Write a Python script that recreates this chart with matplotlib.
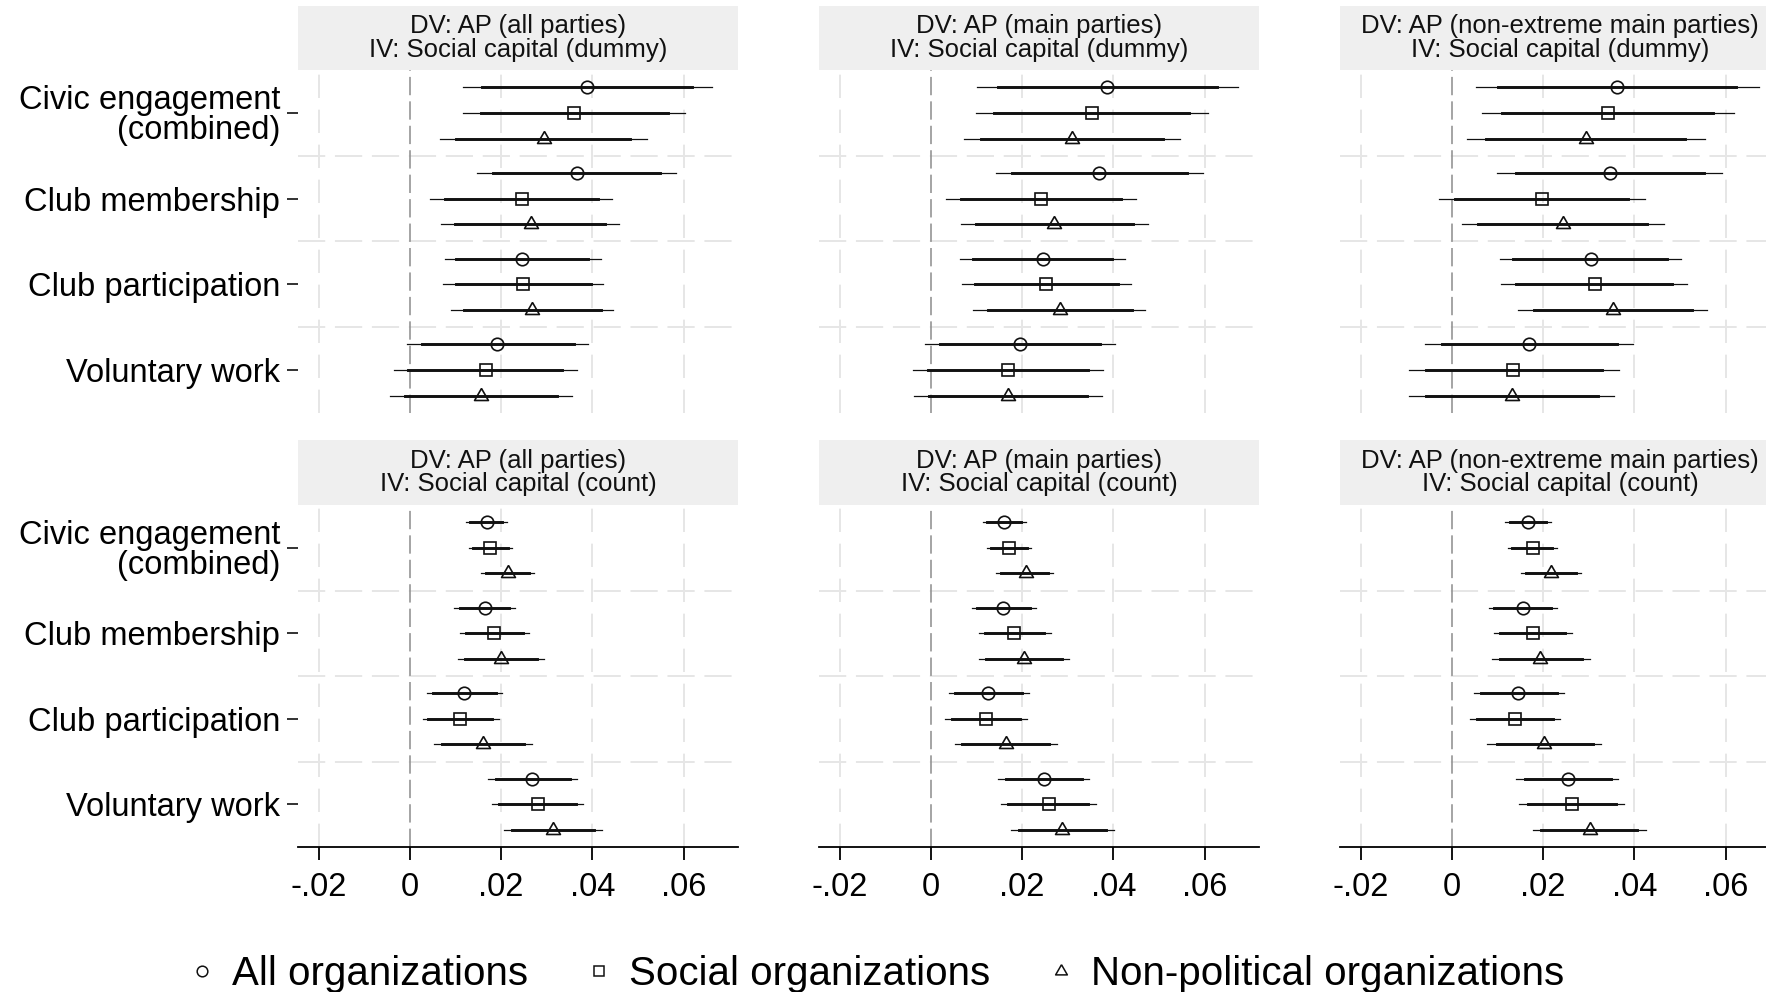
import matplotlib
matplotlib.use('Agg')
import matplotlib.pyplot as plt
from matplotlib.lines import Line2D

plt.rcParams['font.family'] = ['Liberation Sans', 'DejaVu Sans']

# ---- data: rows = categories, columns = [all, social, non-political] ----
categories = ['Civic engagement\n(combined)', 'Club membership',
              'Club participation', 'Voluntary work']
series = ['All organizations', 'Social organizations', 'Non-political organizations']
xticks = [-0.02, 0, 0.02, 0.04, 0.06]
xticklabels = ['-.02', '0', '.02', '.04', '.06']

titles = [
    'DV: AP (all parties)\nIV: Social capital (dummy)',
    'DV: AP (main parties)\nIV: Social capital (dummy)',
    'DV: AP (non-extreme main parties)\nIV: Social capital (dummy)',
    'DV: AP (all parties)\nIV: Social capital (count)',
    'DV: AP (main parties)\nIV: Social capital (count)',
    'DV: AP (non-extreme main parties)\nIV: Social capital (count)',
]

# DV all parties, IV dummy
b_dummy_all = [[0.0389, 0.0360, 0.0294], [0.0366, 0.0245, 0.0265], [0.0246, 0.0249, 0.0268], [0.0192, 0.0166, 0.0155]]
lo95_dummy_all = [[0.0117, 0.0117, 0.0067], [0.0148, 0.0045, 0.0068], [0.0077, 0.0073, 0.0090], [-0.0006, -0.0034, -0.0044]]
hi95_dummy_all = [[0.0662, 0.0603, 0.0519], [0.0583, 0.0444, 0.0459], [0.0418, 0.0424, 0.0446], [0.0391, 0.0366, 0.0355]]
lo90_dummy_all = [[0.0159, 0.0156, 0.0102], [0.0183, 0.0077, 0.0100], [0.0102, 0.0101, 0.0118], [0.0027, -0.0004, -0.0011]]
hi90_dummy_all = [[0.0618, 0.0565, 0.0483], [0.0548, 0.0413, 0.0428], [0.0390, 0.0397, 0.0418], [0.0360, 0.0334, 0.0323]]

# DV main parties, IV dummy
b_dummy_main = [[0.0387, 0.0353, 0.0310], [0.0369, 0.0242, 0.0270], [0.0245, 0.0253, 0.0283], [0.0196, 0.0170, 0.0170]]
lo95_dummy_main = [[0.0101, 0.0099, 0.0072], [0.0142, 0.0034, 0.0066], [0.0064, 0.0068, 0.0093], [-0.0012, -0.0040, -0.0037]]
hi95_dummy_main = [[0.0672, 0.0607, 0.0546], [0.0597, 0.0450, 0.0475], [0.0426, 0.0439, 0.0469], [0.0404, 0.0378, 0.0376]]
lo90_dummy_main = [[0.0148, 0.0139, 0.0110], [0.0177, 0.0066, 0.0099], [0.0092, 0.0097, 0.0125], [0.0020, -0.0007, -0.0004]]
hi90_dummy_main = [[0.0626, 0.0566, 0.0508], [0.0561, 0.0417, 0.0442], [0.0396, 0.0409, 0.0440], [0.0371, 0.0345, 0.0343]]

# DV non-extreme main parties, IV dummy
b_dummy_nonext = [[0.0362, 0.0343, 0.0294], [0.0346, 0.0198, 0.0243], [0.0304, 0.0313, 0.0353], [0.0170, 0.0135, 0.0132]]
lo95_dummy_nonext = [[0.0053, 0.0067, 0.0033], [0.0100, -0.0028, 0.0022], [0.0105, 0.0108, 0.0145], [-0.0059, -0.0093, -0.0094]]
hi95_dummy_nonext = [[0.0672, 0.0619, 0.0554], [0.0591, 0.0423, 0.0465], [0.0503, 0.0515, 0.0560], [0.0397, 0.0366, 0.0356]]
lo90_dummy_nonext = [[0.0102, 0.0111, 0.0075], [0.0141, 0.0007, 0.0057], [0.0135, 0.0141, 0.0179], [-0.0022, -0.0056, -0.0057]]
hi90_dummy_nonext = [[0.0622, 0.0573, 0.0511], [0.0553, 0.0386, 0.0428], [0.0471, 0.0482, 0.0526], [0.0361, 0.0329, 0.0321]]

# DV all parties, IV count
b_count_all = [[0.0168, 0.0176, 0.0214], [0.0164, 0.0185, 0.0199], [0.0119, 0.0111, 0.0161], [0.0268, 0.0280, 0.0314]]
lo95_count_all = [[0.0123, 0.0129, 0.0156], [0.0097, 0.0110, 0.0106], [0.0037, 0.0028, 0.0053], [0.0172, 0.0181, 0.0206]]
hi95_count_all = [[0.0213, 0.0224, 0.0272], [0.0230, 0.0261, 0.0294], [0.0201, 0.0195, 0.0268], [0.0366, 0.0379, 0.0422]]
lo90_count_all = [[0.0132, 0.0139, 0.0167], [0.0110, 0.0122, 0.0121], [0.0050, 0.0040, 0.0071], [0.0188, 0.0196, 0.0223]]
hi90_count_all = [[0.0202, 0.0214, 0.0261], [0.0218, 0.0249, 0.0278], [0.0188, 0.0181, 0.0250], [0.0351, 0.0363, 0.0404]]

# DV main parties, IV count
b_count_main = [[0.0161, 0.0172, 0.0208], [0.0159, 0.0183, 0.0204], [0.0126, 0.0121, 0.0165], [0.0248, 0.0258, 0.0288]]
lo95_count_main = [[0.0115, 0.0123, 0.0142], [0.0090, 0.0106, 0.0106], [0.0039, 0.0031, 0.0052], [0.0148, 0.0153, 0.0176]]
hi95_count_main = [[0.0208, 0.0220, 0.0267], [0.0230, 0.0263, 0.0303], [0.0214, 0.0210, 0.0276], [0.0347, 0.0361, 0.0402]]
lo90_count_main = [[0.0124, 0.0132, 0.0153], [0.0101, 0.0118, 0.0121], [0.0052, 0.0046, 0.0069], [0.0164, 0.0169, 0.0193]]
hi90_count_main = [[0.0197, 0.0210, 0.0256], [0.0218, 0.0249, 0.0287], [0.0199, 0.0196, 0.0259], [0.0332, 0.0344, 0.0384]]

# DV non-extreme main parties, IV count
b_count_nonext = [[0.0166, 0.0177, 0.0218], [0.0156, 0.0178, 0.0194], [0.0146, 0.0139, 0.0203], [0.0254, 0.0264, 0.0302]]
lo95_count_nonext = [[0.0117, 0.0123, 0.0152], [0.0081, 0.0092, 0.0088], [0.0048, 0.0039, 0.0078], [0.0141, 0.0148, 0.0177]]
hi95_count_nonext = [[0.0217, 0.0231, 0.0284], [0.0231, 0.0264, 0.0302], [0.0245, 0.0238, 0.0327], [0.0365, 0.0377, 0.0426]]
lo90_count_nonext = [[0.0127, 0.0132, 0.0163], [0.0092, 0.0106, 0.0105], [0.0064, 0.0055, 0.0099], [0.0161, 0.0166, 0.0195]]
hi90_count_nonext = [[0.0206, 0.0220, 0.0273], [0.0217, 0.0249, 0.0285], [0.0231, 0.0222, 0.0309], [0.0348, 0.0360, 0.0406]]

panels = [
    (b_dummy_all, lo95_dummy_all, hi95_dummy_all, lo90_dummy_all, hi90_dummy_all),
    (b_dummy_main, lo95_dummy_main, hi95_dummy_main, lo90_dummy_main, hi90_dummy_main),
    (b_dummy_nonext, lo95_dummy_nonext, hi95_dummy_nonext, lo90_dummy_nonext, hi90_dummy_nonext),
    (b_count_all, lo95_count_all, hi95_count_all, lo90_count_all, hi90_count_all),
    (b_count_main, lo95_count_main, hi95_count_main, lo90_count_main, hi90_count_main),
    (b_count_nonext, lo95_count_nonext, hi95_count_nonext, lo90_count_nonext, hi90_count_nonext),
]

# ---- style ----
TRI = [(0, 1), (-0.866, -0.5), (0.866, -0.5), (0, 1)]
markers = ['o', 's', TRI]
msizes = [9, 9, 11.5]
offsets = [-0.3, 0.0, 0.3]
INK = '#111111'

W, H = 1766, 992
fig = plt.figure(figsize=(W / 100, H / 100), dpi=100)


def px_axes(left, top, width, height):
    return fig.add_axes([left / W, 1 - (top + height) / H, width / W, height / H])


lefts = [298, 819, 1340]
rows = [(6, 70, 413), (440, 505, 847)]   # strip top, plot top, plot bottom
PW = 440

for k, (b, lo95, hi95, lo90, hi90) in enumerate(panels):
    r, c = divmod(k, 3)
    strip_top, top, bottom = rows[r]
    left = lefts[c]

    # strip title
    sx = px_axes(left, strip_top, PW, top - strip_top)
    sx.set_facecolor('#efefef')
    for s in sx.spines.values():
        s.set_visible(False)
    sx.set_xticks([]); sx.set_yticks([])
    sx.text(0.5, 0.5, titles[k], ha='center', va='center', fontsize=18.5,
            linespacing=0.95, transform=sx.transAxes, color='#111111')

    ax = px_axes(left, top, PW, bottom - top)
    ax.set_xlim(-0.0245, 0.0719)
    ax.set_ylim(3.5, -0.5)
    for s in ['top', 'right', 'left']:
        ax.spines[s].set_visible(False)

    # grid
    for xv in xticks:
        if xv == 0:
            ax.axvline(0, color='#8c8c8c', lw=1.1, ls=(0, (12, 4)), zorder=1)
        else:
            ax.axvline(xv, color='#e6e6e6', lw=1.4, ls=(0, (12, 6)), zorder=0)
    for yv in [0.5, 1.5, 2.5]:
        ax.axhline(yv, color='#e6e6e6', lw=1.4, ls=(0, (14, 5)), zorder=0)

    for g in range(len(categories)):
        for j in range(3):
            y = g + offsets[j]
            ax.plot([lo95[g][j], hi95[g][j]], [y, y], color=INK, lw=0.9, zorder=2)
            ax.plot([lo90[g][j], hi90[g][j]], [y, y], color=INK, lw=2.1, zorder=3)
            ax.plot(b[g][j], y, marker=markers[j], ms=msizes[j], mfc='none',
                    mec=INK, mew=1.2, ls='none', zorder=4)

    if c == 0:
        ax.set_yticks(range(len(categories)))
        ax.set_yticklabels(categories, fontsize=23.5, linespacing=0.95)
        ax.tick_params(axis='y', length=8, width=1.3, pad=5, color='#222222')
    else:
        ax.set_yticks([])

    if r == 1:
        ax.set_xticks(xticks)
        ax.set_xticklabels(xticklabels, fontsize=23.5)
        ax.tick_params(axis='x', length=9, width=1.3, pad=9)
        ax.spines['bottom'].set_linewidth(1.3)
    else:
        ax.set_xticks([])
        ax.spines['bottom'].set_visible(False)

# legend
handles = [Line2D([], [], marker=markers[j], ms=msizes[j] * 0.85, mfc='none', mec=INK,
                  mew=1.1, ls='none') for j in range(3)]
fig.legend(handles, series, loc='center', bbox_to_anchor=(0.4945, 1 - 974 / H), ncol=3,
           frameon=False, fontsize=29, handletextpad=0.25, columnspacing=1.25,
           handlelength=1.0)

fig.savefig('out.png', dpi=100)
